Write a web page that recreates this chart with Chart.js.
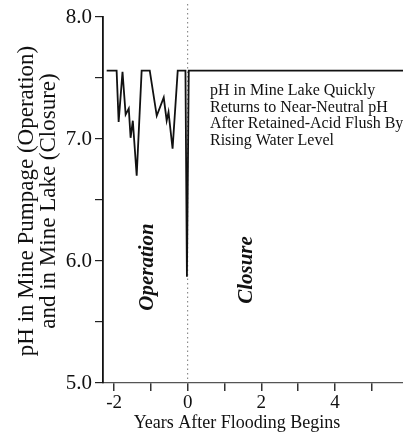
<!DOCTYPE html>
<html>
<head>
<meta charset="utf-8">
<script src="https://cdn.jsdelivr.net/npm/chart.js@4/dist/chart.umd.min.js"></script>
<style>
  html, body { margin: 0; padding: 0; background: #fff; }
  #wrap { width: 403px; height: 433px; position: relative; }
</style>
</head>
<body>
<div id="wrap"><canvas id="c"></canvas></div>
<script>
// Data
const years = [-2.20, -1.93, -1.875, -1.77, -1.685, -1.60, -1.55, -1.49, -1.385, -1.25, -1.03, -0.84, -0.65, -0.57, -0.52, -0.41, -0.27, -0.06, -0.02, 0.03, 5.85];
const phValues = [7.56, 7.56, 7.14, 7.55, 7.20, 7.25, 7.01, 7.15, 6.70, 7.56, 7.56, 7.19, 7.34, 7.15, 7.22, 6.92, 7.56, 7.56, 5.87, 7.56, 7.56];
const xTickValues = [-2, -1, 0, 1, 2, 3, 4, 5];
const xTickLabels = ['-2', '', '0', '', '2', '', '4', ''];
const yTickValues = [5.0, 5.5, 6.0, 6.5, 7.0, 7.5, 8.0];
const yTickLabels = ['5.0', '', '6.0', '', '7.0', '', '8.0'];
const yTitleLines = ['pH in Mine Pumpage (Operation)', 'and in Mine Lake (Closure)'];
const xTitle = 'Years After Flooding Begins';
const noteLines = ['pH in Mine Lake Quickly', 'Returns to Near-Neutral pH', 'After Retained-Acid Flush By', 'Rising Water Level'];
const phaseLabels = ['Operation', 'Closure'];
const phaseX = [-1.1, 1.6];
const floodStart = 0;

const serif = '"Liberation Serif", "DejaVu Serif", serif';

const points = years.map((x, i) => ({ x: x, y: phValues[i] }));

const overlay = {
  id: 'overlay',
  beforeDatasetsDraw(chart) {
    const ctx = chart.ctx;
    const xs = chart.scales.x;
    const ca = chart.chartArea;
    const px = xs.getPixelForValue(floodStart);
    ctx.save();
    ctx.strokeStyle = '#777';
    ctx.lineWidth = 1;
    ctx.setLineDash([1.5, 3]);
    ctx.beginPath();
    ctx.moveTo(px, 4);
    ctx.lineTo(px, ca.bottom);
    ctx.stroke();
    ctx.restore();
  },
  afterDraw(chart) {
    const ctx = chart.ctx;
    const xs = chart.scales.x;
    ctx.save();
    ctx.fillStyle = '#111';
    // y title (two lines, rotated)
    ctx.font = '23px ' + serif;
    ctx.textAlign = 'center';
    ctx.textBaseline = 'middle';
    const cy = 201;
    [27, 49].forEach((cx, i) => {
      ctx.save();
      ctx.translate(cx, cy);
      ctx.rotate(-Math.PI / 2);
      ctx.fillText(yTitleLines[i], 0, 0);
      ctx.restore();
    });
    // x title
    ctx.font = '18px ' + serif;
    ctx.textBaseline = 'alphabetic';
    ctx.fillText(xTitle, 237, 428);
    // note
    ctx.font = '16px ' + serif;
    ctx.textAlign = 'left';
    noteLines.forEach((t, i) => ctx.fillText(t, 210, 95 + i * 16.7));
    // phase labels
    ctx.font = 'italic bold 21px ' + serif;
    ctx.textAlign = 'center';
    ctx.textBaseline = 'middle';
    const phaseY = [267, 270];
    phaseLabels.forEach((t, i) => {
      ctx.save();
      ctx.translate(xs.getPixelForValue(phaseX[i]), phaseY[i]);
      ctx.rotate(-Math.PI / 2);
      ctx.fillText(t, 0, 0);
      ctx.restore();
    });
    ctx.restore();
  }
};

new Chart(document.getElementById('c'), {
  type: 'line',
  data: {
    datasets: [{
      data: points,
      borderColor: '#111',
      borderWidth: 1.8,
      pointRadius: 0,
      tension: 0,
      fill: false
    }]
  },
  options: {
    responsive: true,
    maintainAspectRatio: false,
    animation: false,
    devicePixelRatio: 1,
    layout: { padding: { top: 17, right: 0, left: 0, bottom: 0 } },
    plugins: { legend: { display: false }, tooltip: { enabled: false } },
    scales: {
      x: {
        type: 'linear',
        min: -2.3,
        max: 5.85,
        afterFit(s) { s.height = 50; },
        afterBuildTicks(s) { s.ticks = xTickValues.map(v => ({ value: v })); },
        ticks: {
          includeBounds: false,
          autoSkip: false,
          maxRotation: 0,
          padding: 1,
          color: '#111',
          font: { family: serif, size: 19 },
          callback(v) { const i = xTickValues.indexOf(v); return i >= 0 ? xTickLabels[i] : ''; }
        },
        grid: { drawOnChartArea: false, drawTicks: true, tickLength: 8, color: '#333', lineWidth: 1.5 },
        border: { display: true, color: '#555', width: 1.2 }
      },
      y: {
        type: 'linear',
        min: 5,
        max: 8,
        afterFit(s) { s.width = 103; },
        afterBuildTicks(s) { s.ticks = yTickValues.map(v => ({ value: v })); },
        ticks: {
          autoSkip: false,
          padding: 3,
          color: '#111',
          font: { family: serif, size: 21 },
          callback(v) { const i = yTickValues.indexOf(v); return i >= 0 ? yTickLabels[i] : ''; }
        },
        grid: { drawOnChartArea: false, drawTicks: true, tickLength: 8, color: '#222', lineWidth: 1.2 },
        border: { display: true, color: '#111', width: 1.8 }
      }
    }
  },
  plugins: [overlay]
});
</script>
</body>
</html>
